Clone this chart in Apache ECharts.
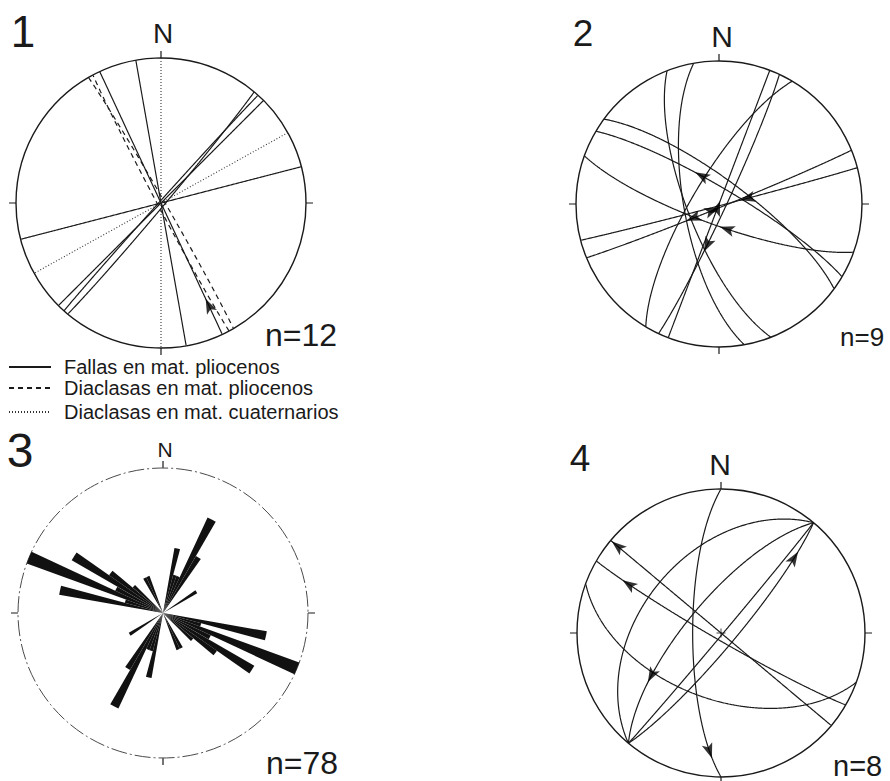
<!DOCTYPE html>
<html>
<head>
<meta charset="utf-8">
<script src="https://cdn.jsdelivr.net/npm/echarts@6/dist/echarts.min.js"></script>
<style>
html, body { margin: 0; padding: 0; background: #fff; }
#main { width: 890px; height: 781px; }
</style>
</head>
<body>
<div id="main"></div>
<script>
// planos: [rumbo (regla de la mano derecha), buzamiento]
var fallas1 = [[350, 90], [335, 90], [40, 88], [222, 89], [45, 90], [75.5, 90]];
var diaclasasPlio1 = [[330, 88], [152, 88]];
var diaclasasCuat1 = [[0, 90], [61, 90]];
var planos2 = [[158.7, 72], [169.8, 70], [20.8, 90], [25, 86], [210.8, 75], [306.4, 76], [300.6, 81], [109.7, 78], [75.3, 89], [67.9, 88]];
var planos4 = [[180, 74], [220, 44], [220, 71], [40, 89], [40, 82], [310, 90], [120, 86], [110, 52]];

// estrias: [indice del plano, direccion, inmersion, sentido del movimiento]
var estrias1 = [[1, 157, 23, 335]];
var estrias2 = [[6, 329, 71, 300], [8, 63, 73, 255], [9, 252, 85, 68], [2, 171, 87, 20], [9, 238, 73, 247], [3, 221, 65, 205], [7, 166, 74, 290]];
var estrias4 = [[5, 310, 7, 310], [6, 296, 28, 300], [4, 45, 28, 40], [2, 231, 46, 225], [0, 187, 18, 170]];

// rosa de direcciones: clases de 5 grados entre 0 y 180
var clasesRosa = [];
for (var k = 0; k < 72; k++) clasesRosa.push(String(k * 5));
var rosa = [0, 0, 5, 3, 3, 8, 5, 0, 0, 0, 0, 3, 0, 0, 0, 0, 0, 0,
            0, 0, 8, 3, 11, 4, 8, 5, 3, 0, 0, 0, 3, 3, 0, 0, 0, 0];

var nombres = ['Fallas en mat. pliocenos', 'Diaclasas en mat. pliocenos', 'Diaclasas en mat. cuaternarios'];
var totales = ['n=12', 'n=9', 'n=78', 'n=8'];

var rad = Math.PI / 180;
var negro = '#1a1a1a';
var fuente = '"Liberation Sans", Arial, sans-serif';

//proyeccion de igual area, hemisferio inferior
function proyectar(e, n, d) {
    var r = Math.sqrt(Math.max(0, 1 - d));
    var az = Math.atan2(e, n) / rad;
    if (az < 0) az += 360;
    return [r, az];
}

function circuloMayor(p) {
    var rumbo = p[0] * rad, buz = p[1] * rad, dd = rumbo + Math.PI / 2;
    var pts = [];
    for (var t = 0; t <= 180; t += 0.5) {
        var c = Math.cos(t * rad), s = Math.sin(t * rad);
        var e = c * Math.sin(rumbo) + s * Math.cos(buz) * Math.sin(dd);
        var n = c * Math.cos(rumbo) + s * Math.cos(buz) * Math.cos(dd);
        var d = s * Math.sin(buz);
        pts.push(proyectar(e, n, d));
    }
    return pts;
}

function xy(q) {
    return [q[0] * Math.sin(q[1] * rad), q[0] * Math.cos(q[1] * rad)];
}

//coloca cada flecha sobre su plano, orientada segun la tangente
function flechas(planos, estrias) {
    return estrias.map(function (f) {
        var pts = circuloMayor(planos[f[0]]);
        var obj = xy([Math.sqrt(1 - Math.sin(f[2] * rad)), f[1]]);
        var best = 1, dmin = 1e9;
        for (var i = 1; i < pts.length - 1; i++) {
            var p = xy(pts[i]);
            var dd = (p[0] - obj[0]) * (p[0] - obj[0]) + (p[1] - obj[1]) * (p[1] - obj[1]);
            if (dd < dmin) { dmin = dd; best = i; }
        }
        var a = xy(pts[best - 1]), b = xy(pts[best + 1]);
        var dir = Math.atan2(b[0] - a[0], b[1] - a[1]) / rad;
        var dif = ((f[3] - dir) % 360 + 540) % 360 - 180;
        if (Math.abs(dif) > 90) dir += 180;
        return { value: pts[best], symbolRotate: -dir };
    });
}

function serieLinea(polar, nombre, plano, estilo) {
    return {
        type: 'line', coordinateSystem: 'polar', polarIndex: polar, name: nombre,
        data: circuloMayor(plano), symbol: 'none', silent: true, z: 3,
        itemStyle: { color: negro },
        lineStyle: estilo
    };
}

function serieFlechas(polar, planos, estrias) {
    return {
        type: 'scatter', coordinateSystem: 'polar', polarIndex: polar,
        data: flechas(planos, estrias), symbol: 'path://M5,0L10,13L5,10L0,13Z', symbolSize: [11, 15],
        itemStyle: { color: '#000' }, silent: true, z: 5
    };
}

var paneles = [
    { c: [161, 203], r: 145 },
    { c: [719, 204], r: 143 },
    { c: [163, 613], r: 145 },
    { c: [721, 633], r: 144 }
];

var polares = [], ejesAng = [], ejesRad = [];
paneles.forEach(function (p, i) {
    polares.push({ center: p.c, radius: p.r });
    var eje = {
        polarIndex: i, startAngle: 90, clockwise: true,
        axisLine: { lineStyle: { color: negro, width: 1.4 } },
        axisTick: { show: true, length: 7, lineStyle: { color: negro, width: 1.2 } },
        axisLabel: { show: false }, splitLine: { show: false }
    };
    if (i === 2) {
        eje.type = 'category';
        eje.data = clasesRosa;
        eje.boundaryGap = true;
        eje.axisTick.interval = 17;
        eje.axisLine.lineStyle = { color: '#4a4a4a', width: 1, type: [16, 3, 2, 3] };
        ejesRad.push({ polarIndex: i, type: 'value', min: 0, max: 11, show: false,
            splitLine: { show: false }, axisLine: { show: false }, axisTick: { show: false }, axisLabel: { show: false } });
    } else {
        eje.type = 'value';
        eje.min = 0;
        eje.max = 360;
        eje.interval = 90;
        ejesRad.push({ polarIndex: i, type: 'value', min: 0, max: 1, show: false,
            splitLine: { show: false }, axisLine: { show: false }, axisTick: { show: false }, axisLabel: { show: false } });
    }
    ejesAng.push(eje);
});

var continua = { color: negro, width: 1.2 };
var discontinua = { color: negro, width: 1.2, type: [5, 4] };
var punteada = { color: '#333', width: 1.1, type: [1, 2] };

var series = [];
fallas1.forEach(function (p) { series.push(serieLinea(0, nombres[0], p, continua)); });
diaclasasPlio1.forEach(function (p) { series.push(serieLinea(0, nombres[1], p, discontinua)); });
diaclasasCuat1.forEach(function (p) { series.push(serieLinea(0, nombres[2], p, punteada)); });
series.push(serieFlechas(0, fallas1, estrias1));

planos2.forEach(function (p) { series.push(serieLinea(1, 'p2', p, continua)); });
series.push(serieFlechas(1, planos2, estrias2));

series.push({
    type: 'bar', coordinateSystem: 'polar', polarIndex: 2,
    data: rosa.concat(rosa), barCategoryGap: '0%',
    itemStyle: { color: '#111' }, silent: true
});

planos4.forEach(function (p) { series.push(serieLinea(3, 'p4', p, continua)); });
series.push(serieFlechas(3, planos4, estrias4));
series.push({
    type: 'scatter', coordinateSystem: 'polar', polarIndex: 3, data: [[0, 0]],
    symbol: 'path://M5,0L5,10M0,5L10,5', symbolSize: 9, silent: true,
    itemStyle: { color: 'transparent', borderColor: negro, borderWidth: 1 }
});

function texto(t, x, y, tam, alin) {
    return {
        type: 'text', x: x, y: y, silent: true,
        style: { text: t, font: tam + 'px ' + fuente, fill: negro, align: alin || 'center', verticalAlign: 'middle' }
    };
}

var leyendas = nombres.map(function (nom, i) {
    return {
        data: [nom], left: 8, top: [357, 378, 402][i], padding: 0,
        itemWidth: 42, itemHeight: 12, selectedMode: false,
        itemStyle: { opacity: 0 },
        textStyle: { fontFamily: fuente, fontSize: 20, color: negro, padding: [0, 0, 0, 8] }
    };
});

var myChart = echarts.init(document.getElementById('main'), null, { renderer: 'svg' });
option = {
    animation: false,
    backgroundColor: '#fff',
    polar: polares,
    angleAxis: ejesAng,
    radiusAxis: ejesRad,
    legend: leyendas,
    graphic: [
        texto('1', 23, 31, 44),
        texto('N', 163, 33, 28),
        texto('2', 583, 33, 37),
        texto('N', 722, 36, 30),
        texto('3', 20, 450, 48),
        texto('N', 165, 449, 21),
        texto('4', 580, 458, 37),
        texto('N', 720, 464, 30),
        texto(totales[0], 265, 335, 32, 'left'),
        texto(totales[1], 840, 337, 26, 'left'),
        texto(totales[2], 266, 763, 32, 'left'),
        texto(totales[3], 833, 766, 29, 'left')
    ],
    series: series
};
myChart.setOption(option);
</script>
</body>
</html>
